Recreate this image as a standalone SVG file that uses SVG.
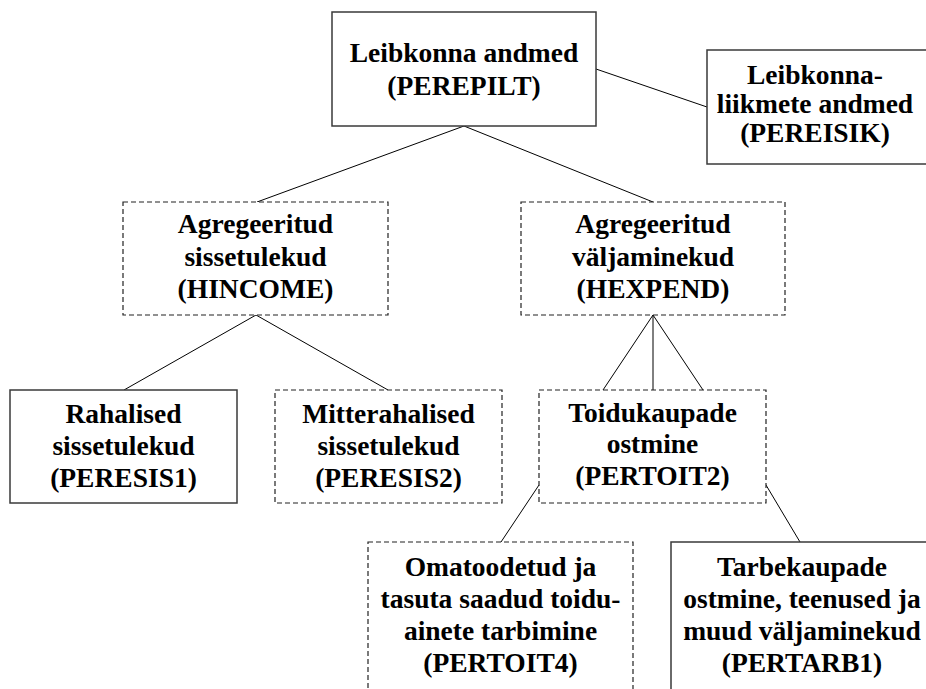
<svg xmlns="http://www.w3.org/2000/svg" width="926" height="689" viewBox="0 0 926 689">
<style>
.box{fill:#fff;stroke:#3a3a3a;stroke-width:1.5}
.dash{fill:#fff;stroke:#222;stroke-width:1.2;stroke-dasharray:5 3}
.t{font-family:"Liberation Serif","Times New Roman",serif;font-weight:bold;font-size:27.5px;fill:#000;text-anchor:middle}
.c{stroke:#000;stroke-width:1;fill:none}
</style>
<rect width="926" height="689" fill="#fff"/>
<g id="connectors">
<line class="c" x1="596" y1="69" x2="707" y2="107"/>
<line class="c" x1="464" y1="126" x2="257" y2="202"/>
<line class="c" x1="464" y1="126" x2="653" y2="202"/>
<line class="c" x1="256" y1="315" x2="124" y2="390"/>
<line class="c" x1="256" y1="315" x2="388" y2="390"/>
<line class="c" x1="653" y1="315" x2="603" y2="390"/>
<line class="c" x1="653" y1="315" x2="653" y2="390"/>
<line class="c" x1="653" y1="315" x2="703" y2="390"/>
<line class="c" x1="539" y1="485" x2="501" y2="542"/>
<line class="c" x1="766" y1="485" x2="800" y2="542"/>
</g>
<g id="PEREPILT">
<rect class="box" x="332" y="12" width="264" height="114"/>
<text class="t" x="464" y="62">Leibkonna andmed</text>
<text class="t" x="464" y="95">(PEREPILT)</text>
</g>
<g id="PEREISIK">
<rect class="box" x="707" y="50" width="230" height="114"/>
<text class="t" x="815" y="84">Leibkonna-</text>
<text class="t" x="815" y="113">liikmete andmed</text>
<text class="t" x="815" y="142">(PEREISIK)</text>
</g>
<g id="HINCOME">
<rect class="dash" x="123" y="202" width="265" height="113"/>
<text class="t" x="255.5" y="233">Agregeeritud</text>
<text class="t" x="255.5" y="266">sissetulekud</text>
<text class="t" x="255.5" y="298">(HINCOME)</text>
</g>
<g id="HEXPEND">
<rect class="dash" x="521" y="202" width="264" height="113"/>
<text class="t" x="653" y="233">Agregeeritud</text>
<text class="t" x="653" y="266">väljaminekud</text>
<text class="t" x="653" y="298">(HEXPEND)</text>
</g>
<g id="PERESIS1">
<rect class="box" x="10" y="390" width="227" height="113"/>
<text class="t" x="123.5" y="423">Rahalised</text>
<text class="t" x="123.5" y="455">sissetulekud</text>
<text class="t" x="123.5" y="487">(PERESIS1)</text>
</g>
<g id="PERESIS2">
<rect class="dash" x="275" y="390" width="227" height="113"/>
<text class="t" x="388.5" y="423">Mitterahalised</text>
<text class="t" x="388.5" y="455">sissetulekud</text>
<text class="t" x="388.5" y="487">(PERESIS2)</text>
</g>
<g id="PERTOIT2">
<rect class="dash" x="539" y="390" width="227" height="113"/>
<text class="t" x="652.5" y="422">Toidukaupade</text>
<text class="t" x="652.5" y="453">ostmine</text>
<text class="t" x="652.5" y="485">(PERTOIT2)</text>
</g>
<g id="PERTOIT4">
<rect class="dash" x="368" y="542" width="265" height="160"/>
<text class="t" x="500.5" y="576">Omatoodetud ja</text>
<text class="t" x="500.5" y="608">tasuta saadud toidu-</text>
<text class="t" x="500.5" y="640">ainete tarbimine</text>
<text class="t" x="500.5" y="672">(PERTOIT4)</text>
</g>
<g id="PERTARB1">
<rect class="box" x="671" y="542" width="270" height="160"/>
<text class="t" x="802" y="576">Tarbekaupade</text>
<text class="t" x="802" y="608">ostmine, teenused ja</text>
<text class="t" x="802" y="640">muud väljaminekud</text>
<text class="t" x="802" y="672">(PERTARB1)</text>
</g>
</svg>
